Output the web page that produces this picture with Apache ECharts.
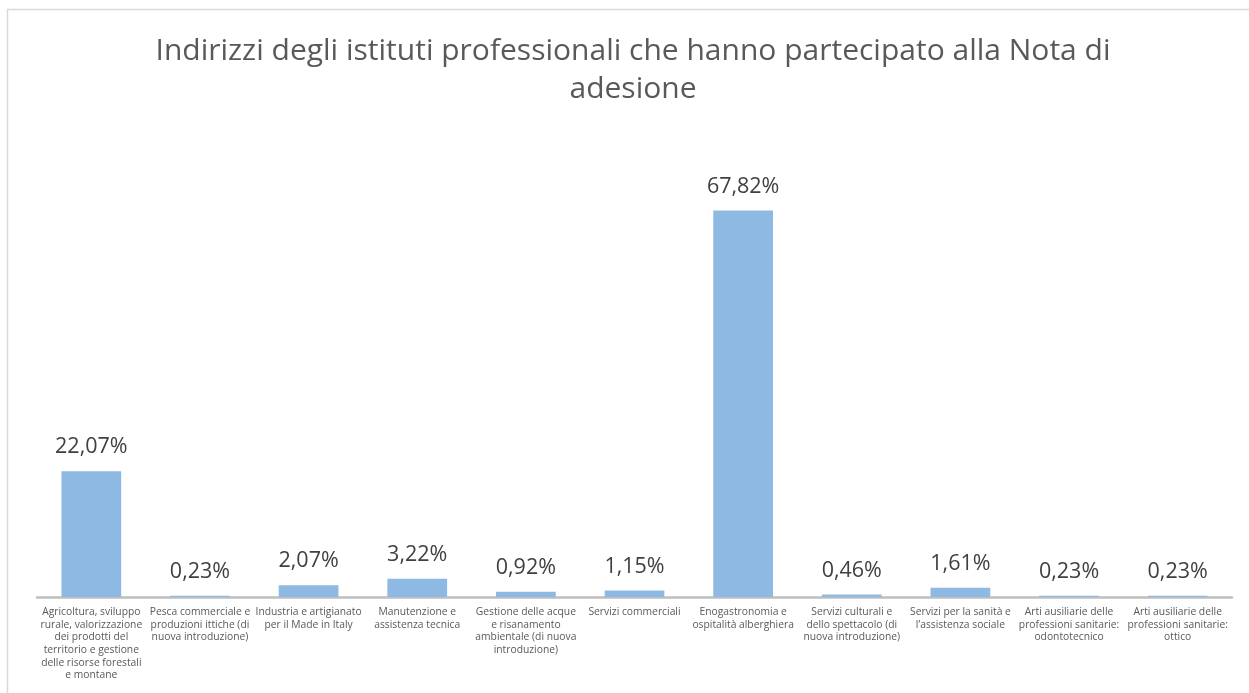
<!DOCTYPE html>
<html>
<head>
<meta charset="utf-8">
<script src="https://cdn.jsdelivr.net/npm/echarts@6/dist/echarts.min.js"></script>
<style>
  html, body { margin: 0; padding: 0; background: #fff; }
  #main { width: 1249px; height: 693px; }
</style>
</head>
<body>
<div id="main"></div>
<script>
// categorie (con a capo come nel grafico originale)
var categories = [
    "Agricoltura, sviluppo\nrurale, valorizzazione\ndei prodotti del\nterritorio e gestione\ndelle risorse forestali\ne montane",
    "Pesca commerciale e\nproduzioni ittiche (di\nnuova introduzione)",
    "Industria e artigianato\nper il Made in Italy",
    "Manutenzione e\nassistenza tecnica",
    "Gestione delle acque\ne risanamento\nambientale (di nuova\nintroduzione)",
    "Servizi commerciali",
    "Enogastronomia e\nospitalità alberghiera",
    "Servizi culturali e\ndello spettacolo (di\nnuova introduzione)",
    "Servizi per la sanità e\nl’assistenza sociale",
    "Arti ausiliarie delle\nprofessioni sanitarie:\nodontotecnico",
    "Arti ausiliarie delle\nprofessioni sanitarie:\nottico"
];

// percentuali
var percentuali = [22.07, 0.23, 2.07, 3.22, 0.92, 1.15, 67.82, 0.46, 1.61, 0.23, 0.23];

var titolo = "Indirizzi degli istituti professionali che hanno partecipato alla Nota di\nadesione";

var font = "'Open Sans', sans-serif";

var myChart = echarts.init(document.getElementById("main"));

var option = {
    animation : false,

    title : {
        text : titolo,
        left : 628,
        top : 27,
        textAlign : "center",
        textStyle : {
            fontFamily : font,
            fontWeight : "normal",
            fontSize : 30,
            lineHeight : 38,
            color : "#595959"
        }
    },

    graphic : [{
        type : "rect",
        shape : {x : 7.5, y : 9.5, width : 1400, height : 800},
        style : {fill : "none", stroke : "#d9d9d9", lineWidth : 1.5},
        silent : true
    }],

    grid : {
        left : 37,
        right : 17,
        top : 198,
        bottom : 96
    },

    xAxis : {
        type : "category",
        data : categories,
        axisLine : {lineStyle : {color : "#bfbfbf", width : 2.5}},
        axisTick : {show : false},
        axisLabel : {
            interval : 0,
            margin : 9,
            fontFamily : font,
            fontSize : 10.3,
            lineHeight : 12.6,
            color : "#595959",
            align : "center"
        }
    },

    yAxis : {
        type : "value",
        min : 0,
        max : 70,
        show : false,
        splitLine : {show : false}
    },

    series : [{
        type : "bar",
        data : percentuali,
        barWidth : "55%",
        itemStyle : {color : "#8eb9e2"},
        label : {
            show : true,
            position : "top",
            distance : 13,
            fontFamily : font,
            fontSize : 21.5,
            color : "#404040",
            formatter : function(p){
                return p.value.toFixed(2).replace(".", ",") + "%";
            }
        }
    }]
};

myChart.setOption(option);
</script>
</body>
</html>
